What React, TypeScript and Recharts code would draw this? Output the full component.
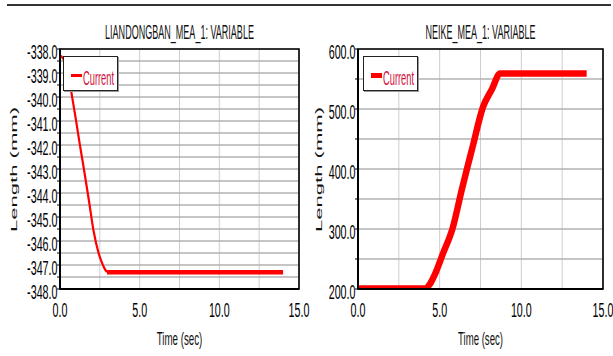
import React from "react";
import { LineChart, Line, XAxis, YAxis, CartesianGrid, ReferenceArea } from "recharts";

// ---- data ----
const leftTime = [0, 0.2, 0.4, 0.6, 0.8, 1.0, 1.2, 1.5, 1.8, 2.1, 2.4, 2.6, 2.8, 2.95, 14.0];
const leftLength = [-338.25, -338.4, -338.7, -339.35, -340.15, -340.95, -341.8, -343.0, -344.25, -345.55, -346.45, -346.85, -347.15, -347.3, -347.3];

const rightTime = [0, 4.1, 4.4, 4.7, 5.2, 5.8, 6.35, 6.65, 7.0, 7.65, 8.2, 8.7, 14.0];
const rightLength = [201, 201, 208, 224, 259, 302, 365, 398, 435, 503, 533, 559, 559];

const timeTicks = [0, 2.5, 5, 7.5, 10, 12.5, 15];
const timeLabels = [0, 5, 10, 15];
const leftTicks = [-348, -347.5, -347, -346.5, -346, -345.5, -345, -344.5, -344, -343.5, -343, -342.5, -342, -341.5, -341, -340.5, -340, -339.5, -339, -338.5, -338];
const leftLabels = [-348, -347, -346, -345, -344, -343, -342, -341, -340, -339, -338];
const rightTicks = [200, 250, 300, 350, 400, 450, 500, 550, 600];
const rightLabels = [200, 300, 400, 500, 600];

const leftTitle = "LIANDONGBAN_MEA_1: VARIABLE";
const rightTitle = "NEIKE_MEA_1: VARIABLE";
const seriesName = "Current";
const xLabel = "Time (sec)";
const yLabel = "Length (mm)";

// the left trace is drawn thin while it falls and thick once it settles (as in the picture)
const leftSettle = 2.95;
const leftData = leftTime.map((t, i) => ({
  t,
  fall: t <= leftSettle ? leftLength[i] : null,
  rest: t >= leftSettle ? leftLength[i] : null,
}));
const rightData = rightTime.map((t, i) => ({ t, v: rightLength[i] }));

const FONT = "'Liberation Sans', Arial, sans-serif";
const RED = "#ff0000";

const makeYTick = (labels: number[]) => (props: any) => {
  const { x, y, payload } = props;
  const v = payload.value;
  if (!labels.some((l) => Math.abs(l - v) < 1e-6)) return <g />;
  return (
    <text
      transform={`translate(${x + 0.5},${y + 10}) scale(0.55,1)`}
      textAnchor="end"
      fontSize={19.5}
      fontFamily={FONT}
      fill="#000"
    >
      {v.toFixed(1)}
    </text>
  );
};

const XTick = (props: any) => {
  const { x, y, payload } = props;
  const v = payload.value;
  if (!timeLabels.some((l) => Math.abs(l - v) < 1e-6)) return <g />;
  return (
    <text
      transform={`translate(${x},${y + 27.5}) scale(0.55,1)`}
      textAnchor="middle"
      fontSize={19.5}
      fontFamily={FONT}
      fill="#000"
    >
      {v.toFixed(1)}
    </text>
  );
};

type PanelProps = {
  data: any[];
  domain: [number, number];
  ticks: number[];
  labels: number[];
  marginLeft: number;
  marginRight: number;
  yWidth: number;
  children: React.ReactNode;
};

const Panel = ({ data, domain, ticks, labels, marginLeft, marginRight, yWidth, children }: PanelProps) => (
  <LineChart
    width={613}
    height={356}
    data={data}
    margin={{ top: 49, right: marginRight, bottom: 37, left: marginLeft }}
  >
    <CartesianGrid horizontal={false} stroke="#cdcdcd" strokeWidth={1} />
    <CartesianGrid vertical={false} stroke="#b2b2b2" strokeWidth={1.6} />
    <XAxis
      dataKey="t"
      type="number"
      domain={[0, 15]}
      ticks={timeTicks}
      interval={0}
      tickLine={false}
      tickSize={0}
      tickMargin={0}
      height={30}
      axisLine={{ stroke: "#000", strokeWidth: 2 }}
      tick={<XTick />}
    />
    <YAxis
      type="number"
      domain={domain}
      ticks={ticks}
      interval={0}
      width={yWidth}
      tickSize={3}
      tickMargin={0}
      tickLine={{ stroke: "#000", strokeWidth: 1 }}
      axisLine={{ stroke: "#000", strokeWidth: 2 }}
      tick={makeYTick(labels)}
      allowDataOverflow
    />
    <ReferenceArea x1={0} x2={15} y1={domain[0]} y2={domain[1]} fill="none" stroke="#000" strokeWidth={1.6} />
    {children}
  </LineChart>
);

const LegendBox = ({ left, lineW }: { left: number; lineW: number }) => (
  <div
    style={{
      position: "absolute",
      left,
      top: 56,
      width: 55,
      height: 35,
      border: "1px solid #222",
      boxShadow: "1px 1px 0 #999",
      background: "#fff",
      boxSizing: "border-box",
    }}
  >
    <div style={{ position: "absolute", left: 7, top: 18 - lineW / 2, width: 11, height: lineW, background: RED }} />
    <svg width={55} height={35} style={{ position: "absolute", left: 0, top: 0, overflow: "visible" }}>
      <text transform="translate(19,28) scale(0.443,1)" fontSize={21} fontFamily={FONT} fill="#d0103a">
        {seriesName}
      </text>
    </svg>
  </div>
);

export default function App() {
  return (
    <div style={{ position: "absolute", left: 0, top: 0, width: 613, height: 356, background: "#fff", overflow: "hidden" }}>
      <div style={{ position: "absolute", left: 0, top: 0 }}>
        <Panel
          data={leftData}
          domain={[-348, -338]}
          ticks={leftTicks}
          labels={leftLabels}
          marginLeft={15}
          marginRight={314}
          yWidth={45}
        >
          <Line type="monotone" dataKey="fall" stroke={RED} strokeWidth={2.2} dot={false} isAnimationActive={false} />
          <Line type="monotone" dataKey="rest" stroke={RED} strokeWidth={4.5} dot={false} isAnimationActive={false} />
        </Panel>
      </div>
      <div style={{ position: "absolute", left: 0, top: 0 }}>
        <Panel
          data={rightData}
          domain={[200, 600]}
          ticks={rightTicks}
          labels={rightLabels}
          marginLeft={318}
          marginRight={10}
          yWidth={40}
        >
          <Line type="monotone" dataKey="v" stroke={RED} strokeWidth={6.5} dot={false} isAnimationActive={false} />
        </Panel>
      </div>
      <svg width={613} height={356} style={{ position: "absolute", left: 0, top: 0, pointerEvents: "none" }}>
        <line x1={7} y1={5} x2={611} y2={5} stroke="#333" strokeWidth={2} />
        <text transform="translate(179.5,39) scale(0.452,1)" textAnchor="middle" fontSize={20} fontFamily={FONT} fill="#111">
          {leftTitle}
        </text>
        <text transform="translate(480.5,39) scale(0.452,1)" textAnchor="middle" fontSize={20} fontFamily={FONT} fill="#111">
          {rightTitle}
        </text>
        <text transform="translate(179.5,345) scale(0.513,1)" textAnchor="middle" fontSize={19} fontFamily={FONT} fill="#111">
          {xLabel}
        </text>
        <text transform="translate(480.5,345) scale(0.505,1)" textAnchor="middle" fontSize={19} fontFamily={FONT} fill="#111">
          {xLabel}
        </text>
        <text transform="translate(16.5,169.5) rotate(-90) scale(1,0.5)" textAnchor="middle" fontSize={19} fontFamily={FONT} textLength={125} lengthAdjust="spacingAndGlyphs" fill="#111">
          {yLabel}
        </text>
        <text transform="translate(322,169.5) rotate(-90) scale(1,0.5)" textAnchor="middle" fontSize={19} fontFamily={FONT} textLength={125} lengthAdjust="spacingAndGlyphs" fill="#111">
          {yLabel}
        </text>
      </svg>
      <LegendBox left={63} lineW={3} />
      <LegendBox left={363} lineW={5} />
    </div>
  );
}
